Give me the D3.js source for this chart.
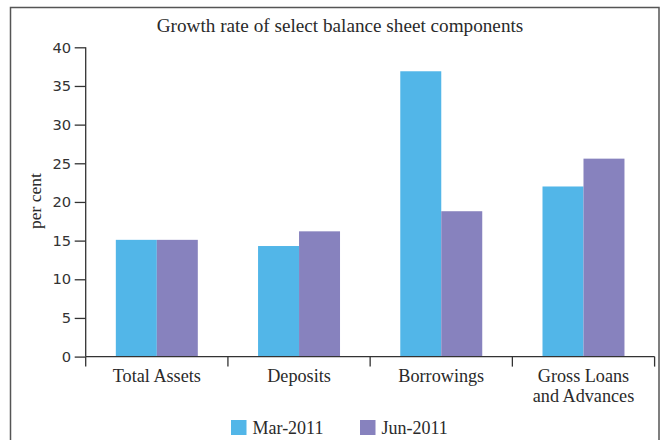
<!DOCTYPE html>
<html>
<head>
<meta charset="utf-8">
<script src="https://cdn.jsdelivr.net/npm/d3@7"></script>
<style>
  html, body { margin: 0; padding: 0; background: #fff; }
  svg { display: block; }
</style>
</head>
<body>
<svg id="chart" width="666" height="440"></svg>
<script>
const categories = ["Total Assets", "Deposits", "Borrowings", "Gross Loans and Advances"];
const seriesNames = ["Mar-2011", "Jun-2011"];
const mar2011 = [15.1, 14.3, 36.9, 22.0];
const jun2011 = [15.1, 16.2, 18.8, 25.6];
const yTicks = [0, 5, 10, 15, 20, 25, 30, 35, 40];
const colors = ["#52b6e8", "#8782be"];
const titleText = "Growth rate of select balance sheet components";
const yLabel = "per cent";

const svg = d3.select("#chart");
const serif = "'Liberation Serif', 'Times New Roman', serif";
const sans = "'DejaVu Sans', Verdana, sans-serif";

// frame
svg.append("rect")
  .attr("x", 10.5).attr("y", 7.5).attr("width", 648.5).attr("height", 460)
  .attr("fill", "none").attr("stroke", "#555").attr("stroke-width", 1.5);

const pLeft = 85.7, pRight = 654.6, pTop = 47.3, pBottom = 356.6;

const x0 = d3.scaleBand().domain(categories).range([pLeft, pRight]).padding(0);
const x1 = d3.scaleBand().domain(seriesNames).range([0, x0.bandwidth()]).paddingInner(0).paddingOuter(0.735);
const y = d3.scaleLinear().domain([0, 40]).range([pBottom, pTop]);

const data = categories.map((c, i) => ({ cat: c, vals: [mar2011[i], jun2011[i]] }));

// bars
const g = svg.append("g");
g.selectAll("g.grp").data(data).join("g")
  .attr("class", "grp")
  .attr("transform", d => `translate(${x0(d.cat)},0)`)
  .selectAll("rect").data(d => d.vals.map((v, j) => ({ key: seriesNames[j], v, j })))
  .join("rect")
  .attr("x", d => x1(d.key))
  .attr("width", x1.bandwidth())
  .attr("y", d => y(d.v))
  .attr("height", d => y(0) - y(d.v))
  .attr("fill", d => colors[d.j]);

// y axis
const yAxis = d3.axisLeft(y).tickValues(yTicks).tickSize(11).tickPadding(3.5);
const ya = svg.append("g").attr("transform", `translate(${pLeft},0)`).call(yAxis);
ya.select(".domain").attr("stroke", "#333").attr("stroke-width", 1.3).attr("d", `M0,${pTop}V${pBottom}`);
ya.selectAll(".tick line").attr("stroke", "#333").attr("stroke-width", 1.3);
ya.selectAll(".tick text").attr("font-family", sans).attr("font-size", 14.7).attr("fill", "#333");

// x axis
const xa = svg.append("g").attr("transform", `translate(0,${pBottom})`);
xa.append("line").attr("x1", pLeft).attr("x2", pRight).attr("stroke", "#333").attr("stroke-width", 1.3);
const bounds = categories.map(c => x0(c)).concat([x0(categories[categories.length - 1]) + x0.bandwidth()]);
xa.selectAll("line.tk").data(bounds).join("line").attr("class", "tk")
  .attr("x1", d => d).attr("x2", d => d).attr("y1", 0).attr("y2", 10)
  .attr("stroke", "#333").attr("stroke-width", 1.3);

function wrapWords(text, maxChars) {
  const words = text.split(" ");
  const lines = [];
  let cur = "";
  words.forEach(w => {
    const t = cur ? cur + " " + w : w;
    if (t.length > maxChars && cur) { lines.push(cur); cur = w; } else cur = t;
  });
  if (cur) lines.push(cur);
  return lines;
}
xa.selectAll("text.cat").data(categories).join("text").attr("class", "cat")
  .attr("x", d => x0(d) + x0.bandwidth() / 2)
  .attr("y", 25.5)
  .attr("text-anchor", "middle")
  .attr("font-family", serif).attr("font-size", 18.2).attr("fill", "#2a2a2a")
  .each(function (d) {
    const lines = wrapWords(d, 12);
    const t = d3.select(this);
    lines.forEach((ln, i) => {
      t.append("tspan").attr("x", x0(d) + x0.bandwidth() / 2).attr("dy", i === 0 ? 0 : 20).text(ln);
    });
  });

// title
svg.append("text").attr("x", 340).attr("y", 32).attr("text-anchor", "middle")
  .attr("font-family", serif).attr("font-size", 19.2).attr("fill", "#2a2a2a").text(titleText);

// y label
svg.append("text").attr("transform", "translate(41,201) rotate(-90)").attr("text-anchor", "middle")
  .attr("font-family", serif).attr("font-size", 17.5).attr("fill", "#2a2a2a").text(yLabel);

// legend
const legX = [231, 360];
const lg = svg.append("g");
seriesNames.forEach((s, i) => {
  lg.append("rect").attr("x", legX[i]).attr("y", 420).attr("width", 15.5).attr("height", 15).attr("fill", colors[i]);
  lg.append("text").attr("x", legX[i] + 21.5).attr("y", 433.5)
    .attr("font-family", serif).attr("font-size", 18).attr("fill", "#2a2a2a").text(s);
});
</script>
</body>
</html>
